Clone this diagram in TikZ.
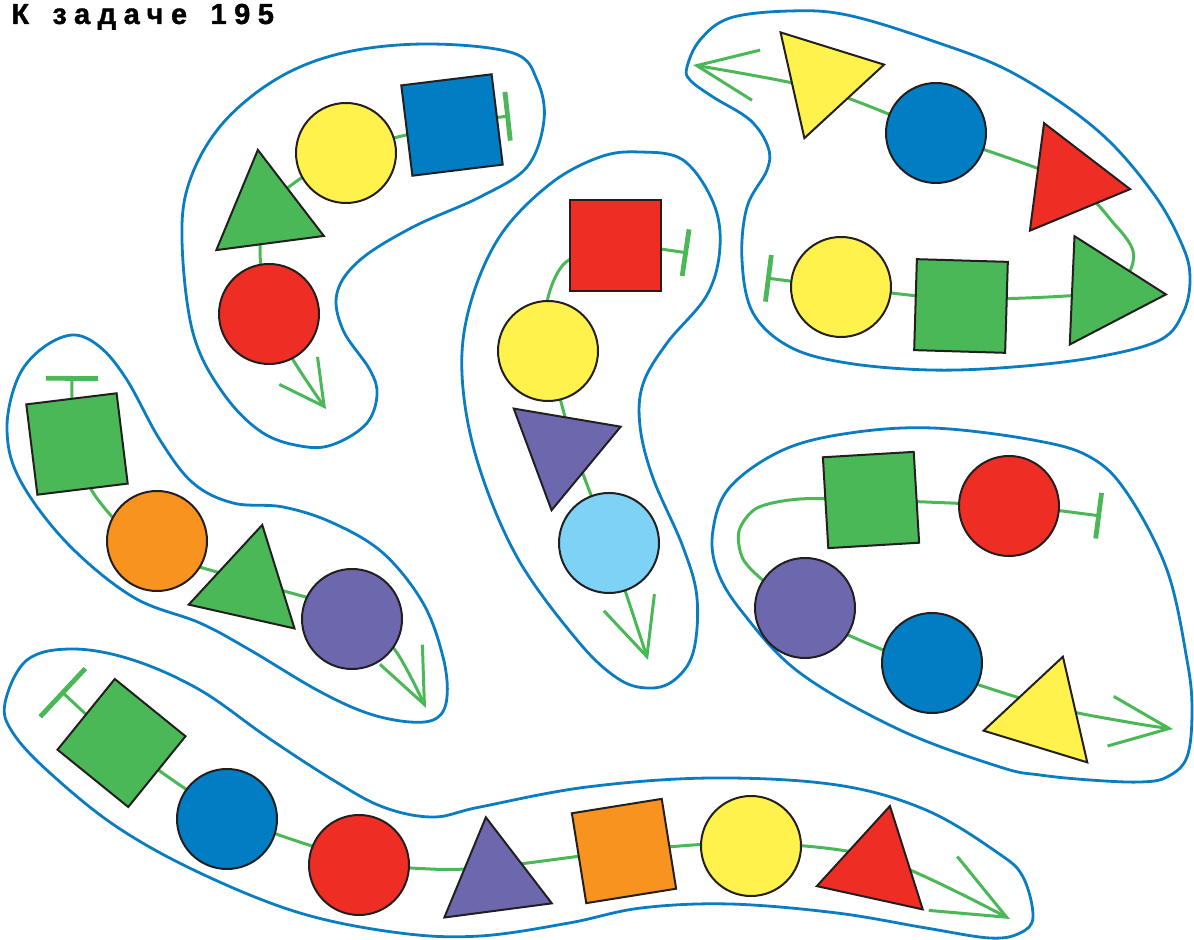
\documentclass[tikz,border=0pt]{standalone}
\usepackage{fontspec}
\usetikzlibrary{arrows.meta,shapes.geometric,backgrounds}
\newfontfamily\headfont[LetterSpace=26,WordSpace=1.5,FakeBold=1.2]{Liberation Sans}
\definecolor{kzline}{HTML}{0A7DC2}
\definecolor{kzblue}{HTML}{007DC3}
\definecolor{kzgreen}{HTML}{4BB857}
\definecolor{kzyellow}{HTML}{FFF24D}
\definecolor{kzred}{HTML}{EE2E24}
\definecolor{kzorange}{HTML}{F7931E}
\definecolor{kzpurple}{HTML}{6D67AE}
\definecolor{kzsky}{HTML}{7DD2F6}
\definecolor{kzink}{HTML}{231F20}
\tikzset{
  blob/.style={draw=kzline,line width=1.4pt},
  thread/.style={draw=kzgreen,line width=1.5pt},
  fig/.style={draw=kzink,line width=1pt,inner sep=0pt,outer sep=0pt},
  disc/.style={fig,circle,minimum size=50pt},
  sq/.style={fig,rectangle,minimum size=45.5pt},
  tri/.style={fig,regular polygon,regular polygon sides=3,minimum size=62.6pt},
}

\begin{document}
\begin{tikzpicture}[x=0.5pt,y=-0.5pt]
\useasboundingbox (0,0) rectangle (1194,940);
\node[anchor=base west,inner sep=0pt,font=\headfont\bfseries\fontsize{14.5}{16}\selectfont] (title) at (11,24) {К задаче 195};

% group A
\node[sq,fill=kzblue,rotate=7] (a1) at (452,125) {};
\node[disc,fill=kzyellow] (a2) at (346,153) {};
\node[tri,fill=kzgreen,rotate=7.5] (a3) at (266,212) {};
\node[disc,fill=kzred] (a4) at (269,314) {};
% group B
\node[sq,fill=kzred] (b1) at (615,246) {};
\node[disc,fill=kzyellow] (b2) at (548,351) {};
\node[tri,fill=kzpurple,rotate=50.4] (b3) at (562,448.5) {};
\node[disc,fill=kzsky] (b4) at (609,543) {};
% group C
\node[tri,fill=kzyellow,rotate=42.7] (c1) at (823,78.4) {};
\node[disc,fill=kzblue] (c2) at (936,133) {};
\node[tri,fill=kzred,rotate=22.5] (c3) at (1068,181) {};
\node[disc,fill=kzyellow] (c4) at (841,287) {};
\node[sq,fill=kzgreen,rotate=-1.7] (c5) at (961,306) {};
\node[tri,fill=kzgreen,rotate=27.5] (c6) at (1103.4,291.7) {};
% group D
\node[sq,fill=kzgreen,rotate=7] (d1) at (77,444) {};
\node[disc,fill=kzorange] (d2) at (157,541) {};
\node[tri,fill=kzgreen,rotate=-12.7] (d3) at (248.5,586) {};
\node[disc,fill=kzpurple] (d4) at (352,619) {};
% group E
\node[sq,fill=kzgreen,rotate=-39] (e1) at (121.5,743) {};
\node[disc,fill=kzblue] (e2) at (227,819) {};
\node[disc,fill=kzred] (e3) at (359,865) {};
\node[tri,fill=kzpurple,rotate=7.5] (e4) at (494,879.4) {};
\node[sq,fill=kzorange,rotate=9.1] (e5) at (624,851) {};
\node[disc,fill=kzyellow] (e6) at (751,846) {};
\node[tri,fill=kzred,rotate=-12.4] (e7) at (876.5,867.2) {};
% group F
\node[sq,fill=kzgreen,rotate=3.4] (f1) at (871,500) {};
\node[disc,fill=kzred] (f2) at (1009,506) {};
\node[disc,fill=kzpurple] (f3) at (805,608) {};
\node[disc,fill=kzblue] (f4) at (932,663) {};
\node[tri,fill=kzyellow,rotate=-17] (f5) at (1044.6,716.6) {};

\begin{scope}[on background layer]
  % outlines
  \draw[blob] plot[smooth cycle,tension=0.6] coordinates {(347,52) (430,44) (513,53) (537,80) (544,120) (527,167) (480,197) (413,227) (360,260) (337,293) (343,330) (370,370) (377,395) (367,423) (337,443) (307,447) (263,433) (223,393) (193,333) (182,240) (190,180) (223,123) (280,77)};
  \draw[blob] plot[smooth cycle,tension=0.6] coordinates {(600,157) (640,152) (683,160) (713,202) (720,247) (707,295) (667,343) (643,384) (640,426) (653,478) (683,547) (697,598) (693,653) (673,681) (647,688) (617,678) (577,640) (517,557) (477,460) (462,374) (470,305) (500,236) (550,184)};
  \draw[blob] plot[smooth cycle,tension=0.6] coordinates {(687,67) (700,40) (730,18) (790,11) (847,15) (930,40) (1013,73) (1097,130) (1153,193) (1183,247) (1190,280) (1183,313) (1160,340) (1097,357) (1013,367) (930,370) (847,363) (790,347) (753,313) (742,260) (747,207) (767,170) (768,147) (750,120) (713,97) (690,80)};
  \draw[blob] plot[smooth cycle,tension=0.6] coordinates {(40,350) (72,335) (100,347) (127,380) (160,440) (193,483) (233,503) (283,507) (333,523) (383,553) (423,603) (443,657) (447,697) (437,718) (410,722) (367,713) (317,690) (250,650) (200,623) (133,597) (67,543) (20,480) (7,430) (17,380)};
  \draw[blob] plot[smooth cycle,tension=0.6] coordinates {(5,703) (27,660) (73,649) (133,660) (200,690) (267,737) (333,780) (383,807) (433,817) (480,807) (587,787) (712,778) (837,785) (926,810) (998,853) (1023,877) (1033,917) (1020,933) (990,938) (926,928) (837,913) (730,904) (641,908) (569,923) (480,936) (400,933) (300,913) (200,873) (117,827) (50,773) (13,733)};
  \draw[blob] plot[smooth cycle,tension=0.6] coordinates {(850,433) (933,428) (1033,440) (1090,457) (1127,493) (1167,570) (1187,660) (1192,710) (1187,757) (1167,777) (1140,782) (1090,780) (1040,775) (1000,767) (900,730) (800,673) (743,613) (717,570) (713,530) (730,487) (783,450)};
  % threads
  \coordinate (sA) at (510,116); \coordinate (eA) at (326,409);
  \draw[thread,{Bar[width=24.5pt,line width=0.9pt 1]}-{Straight Barb[length=22pt,width=23.5pt]}] plot[smooth] coordinates {(sA) (a1.center) (a2.center) (a3.center) (a4.center) (eA)};
  \coordinate (sB) at (688,253); \coordinate (eB) at (648,660);
  \draw[thread,{Bar[width=23.5pt,line width=0.9pt 1]}-{Straight Barb[length=28.5pt,width=26.6pt]}] plot[smooth] coordinates {(sB) (b1.center) (566,262) (547,302) (549,351) (574,448) (b4.center) (eB)};
  \coordinate (sC) at (766,278); \coordinate (eC) at (693,65);
  \draw[thread,{Bar[width=23.5pt,line width=0.9pt 1]}-{Straight Barb[length=30pt,width=25.4pt]}] plot[smooth] coordinates {(sC) (c4.center) (961,299) (1100,293) (1128,274) (1133,251) (1116,226) (c3.center) (c2.center) (823,90) (eC)};
  \coordinate (sD) at (72,376); \coordinate (eD) at (426,708);
  \draw[thread,{Bar[width=26pt,line width=0.9pt 1]}-{Straight Barb[length=27.6pt,width=23.4pt]}] plot[smooth] coordinates {(sD) (75,444) (96,497) (150,549) (248,581) (352,612) (395,650) (eD)};
  \coordinate (sE) at (61,691); \coordinate (eE) at (1010,919);
  \draw[thread,{Bar[width=33pt,line width=0.9pt 1]}-{Straight Barb[length=36pt,width=30.5pt]}] plot[smooth] coordinates {(sE) (e1.center) (229,815) (359,860) (430,869) (494,867) (e5.center) (751,843) (879,858) (eE)};
  \coordinate (sF) at (1101,516); \coordinate (eF) at (1173,729);
  \draw[thread,{Bar[width=23pt,line width=0.9pt 1]}-{Straight Barb[length=29.5pt,width=25pt]}] plot[smooth] coordinates {(sF) (f2.center) (f1.center) (800,499) (757,508) (739,531) (743,559) (766,583) (805,612) (848,635) (932,669) (1047,706) (1133,723) (eF)};
\end{scope}
\end{tikzpicture}
\end{document}
